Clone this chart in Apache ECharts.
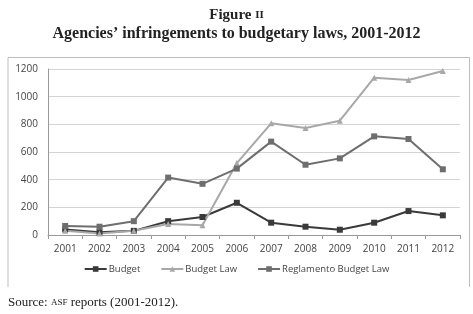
<!DOCTYPE html>
<html>
<head>
<meta charset="utf-8">
<script src="https://cdn.jsdelivr.net/npm/echarts@6/dist/echarts.min.js"></script>
<style>
  html, body { margin: 0; padding: 0; background: #fff; }
  #main { width: 473px; height: 314px; }
</style>
</head>
<body>
<div id="main"></div>
<script>
// data
var years = ['2001','2002','2003','2004','2005','2006','2007','2008','2009','2010','2011','2012']
var budget = [40, 20, 30, 100, 130, 233, 89, 60, 38, 89, 173, 142]
var budgetLaw = [30, 10, 30, 80, 70, 520, 807, 773, 826, 1137, 1120, 1185]
var reglamento = [65, 60, 100, 415, 370, 480, 675, 508, 554, 713, 694, 475]

var chart = echarts.init(document.getElementById('main'))

var labelFont = 'Open Sans'

var option = {
    animation: false,
    backgroundColor: '#fff',
    title: [{
        text: '{a|Figure }{b|II}',
        left: 'center',
        top: 3,
        textStyle: {
            rich: {
                a: { fontFamily: 'Liberation Serif', fontWeight: 'bold', fontSize: 15, color: '#222' },
                b: { fontFamily: 'Liberation Serif', fontWeight: 'bold', fontSize: 11, color: '#222' }
            }
        }
    }, {
        text: 'Agencies\u2019 infringements to budgetary laws, 2001-2012',
        left: 'center',
        top: 21,
        textStyle: { fontFamily: 'Liberation Serif', fontWeight: 'bold', fontSize: 16, color: '#222' }
    }, {
        text: '{a|Source: }{b|ASF}{a| reports (2001-2012).}',
        left: 3,
        top: 291,
        textStyle: {
            fontWeight: 'normal',
            rich: {
                a: { fontFamily: 'Liberation Serif', fontWeight: 'normal', fontSize: 13, color: '#222' },
                b: { fontFamily: 'Liberation Serif', fontWeight: 'normal', fontSize: 9, color: '#222' }
            }
        }
    }],
    graphic: [{
        type: 'polyline',
        shape: { points: [[8, 287], [8, 57.5], [469.5, 57.5], [469.5, 287]] },
        style: { stroke: '#bdbdbd', lineWidth: 1, fill: null },
        silent: true
    }],
    legend: {
        bottom: 35,
        left: 'center',
        itemGap: 20,
        itemWidth: 22,
        itemHeight: 7,
        textStyle: { fontFamily: labelFont, fontSize: 9.5, color: '#444', padding: [0, 0, 0, -3] },
        data: ['Budget', 'Budget Law', 'Reglamento Budget Law']
    },
    grid: { left: 48, right: 13, top: 69, bottom: 79 },
    xAxis: {
        type: 'category',
        data: years,
        boundaryGap: true,
        axisLine: { lineStyle: { color: '#9a9a9a' } },
        axisTick: { show: true, length: 4, lineStyle: { color: '#9a9a9a' } },
        axisLabel: { fontFamily: labelFont, fontSize: 10, color: '#444', margin: 9 }
    },
    yAxis: {
        type: 'value',
        min: 0,
        max: 1200,
        interval: 200,
        axisLine: { show: true, lineStyle: { color: '#9a9a9a' } },
        axisTick: { show: false },
        splitLine: { lineStyle: { color: '#d4d4d4', width: 1 } },
        axisLabel: {
            fontFamily: labelFont, fontSize: 10, color: '#444', margin: 10,
            formatter: function (v) { return String(v) }
        }
    },
    series: [{
        name: 'Budget',
        type: 'line',
        data: budget,
        symbol: 'rect',
        symbolSize: 6,
        itemStyle: { color: '#3a3a3a' },
        lineStyle: { color: '#3a3a3a', width: 2 }
    }, {
        name: 'Budget Law',
        type: 'line',
        data: budgetLaw,
        symbol: 'triangle',
        symbolSize: 6,
        itemStyle: { color: '#a8a8a8' },
        lineStyle: { color: '#a8a8a8', width: 2 }
    }, {
        name: 'Reglamento Budget Law',
        type: 'line',
        data: reglamento,
        symbol: 'rect',
        symbolSize: 6,
        itemStyle: { color: '#6e6e6e' },
        lineStyle: { color: '#6e6e6e', width: 2 }
    }]
}

chart.setOption(option)
</script>
</body>
</html>
